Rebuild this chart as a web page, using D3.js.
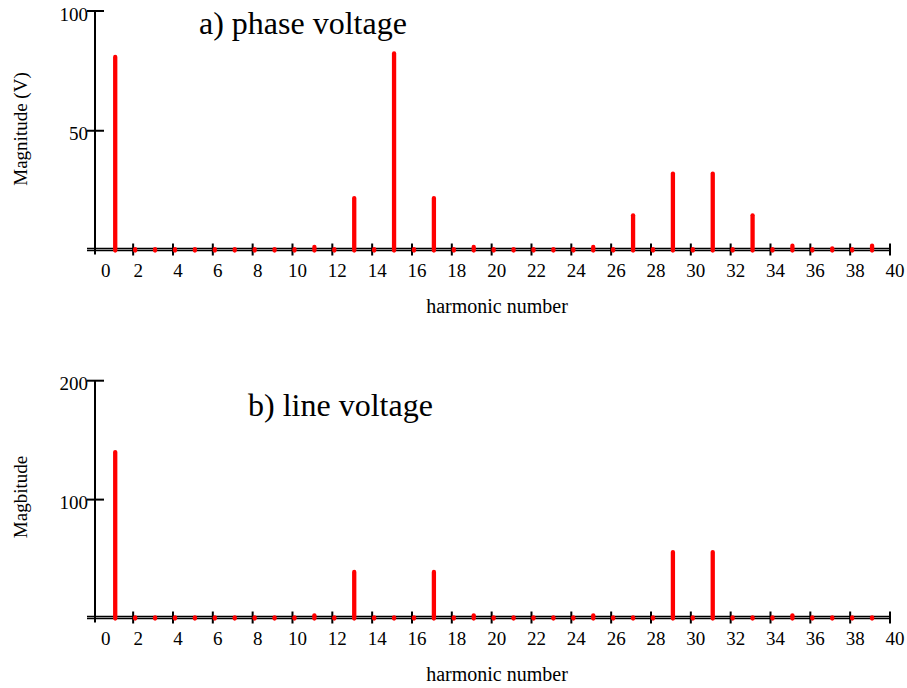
<!DOCTYPE html>
<html>
<head>
<meta charset="utf-8">
<script src="https://cdn.jsdelivr.net/npm/d3@7"></script>
<style>
  html, body { margin: 0; padding: 0; background: #fff; }
  svg { display: block; }
</style>
</head>
<body>
<svg id="chart" width="907" height="688"></svg>
<script>
// ---- data ----
const harmonics = d3.range(1, 40); // 1..39
const xTicks = d3.range(0, 41, 2);

const phaseValues = [
  80.8, 0.6, 0.6, 0.6, 0.6, 0.6, 0.6, 0.6, 0.6, 0.6,   // 1-10
  1.5, 0.6, 21.9, 0.6, 82.3, 0.6, 21.9, 0.6, 1.5, 0.6, // 11-20
  0.6, 0.6, 0.6, 0.6, 1.5, 0.6, 14.7, 0.6, 32.1, 0.6,  // 21-30
  32.1, 0.6, 14.7, 0.6, 2.0, 0.6, 0.9, 0.6, 2.0        // 31-39
];
const lineValues = [
  140, 1.0, 1.0, 1.0, 1.0, 1.0, 1.0, 1.0, 1.0, 1.0,    // 1-10
  2.7, 1.0, 39.1, 1.0, 1.0, 1.0, 39.1, 1.0, 2.7, 1.0,  // 11-20
  1.0, 1.0, 1.0, 1.0, 2.7, 1.0, 1.0, 1.0, 55.9, 1.0,   // 21-30
  55.9, 1.0, 1.0, 1.0, 2.7, 1.0, 1.0, 1.0, 1.0         // 31-39
];
const phaseYTicks = [50, 100];
const lineYTicks = [100, 200];

const FONT = "'Times New Roman', Times, 'Liberation Serif', Tinos, serif";
const svg = d3.select("#chart").attr("font-family", FONT);

function drawPanel(opt) {
  const g = svg.append("g");
  const x = d3.scaleLinear().domain([0, 40]).range([93.3, 890]);
  const y = d3.scaleLinear().domain([0, opt.yMax]).range([opt.zeroY, opt.topY]);
  const y0 = y(0);
  const axisX = 95;

  // double horizontal axis line
  g.append("line").attr("x1", 87).attr("x2", x(40)).attr("y1", y0).attr("y2", y0)
    .attr("stroke", "#000").attr("stroke-width", 1.5);
  g.append("line").attr("x1", 87).attr("x2", x(40)).attr("y1", y0 - 2).attr("y2", y0 - 2)
    .attr("stroke", "#000").attr("stroke-width", 1.5);

  // vertical axis line
  g.append("line").attr("x1", axisX).attr("x2", axisX)
    .attr("y1", y(opt.yMax)).attr("y2", y0 + 4)
    .attr("stroke", "#000").attr("stroke-width", 2);

  // y ticks
  g.selectAll(".ytick").data(opt.yTicks).enter().append("line")
    .attr("x1", 87).attr("x2", 104)
    .attr("y1", d => y(d)).attr("y2", d => y(d))
    .attr("stroke", "#000").attr("stroke-width", 2);
  g.selectAll(".ylab").data(opt.yTicks).enter().append("text")
    .attr("x", 88).attr("y", d => y(d) + 9.5)
    .attr("text-anchor", "end").attr("font-size", 19)
    .text(d => d);

  // x ticks
  g.selectAll(".xtick").data(xTicks.filter(d => d > 0)).enter().append("line")
    .attr("x1", d => x(d)).attr("x2", d => x(d))
    .attr("y1", y0 - 7).attr("y2", y0 + 5)
    .attr("stroke", "#000").attr("stroke-width", 2);
  g.selectAll(".xlab").data(xTicks).enter().append("text")
    .attr("x", d => x(d) + (d === 0 ? 12.5 : 5))
    .attr("y", y0 + 26)
    .attr("text-anchor", "middle").attr("font-size", 19)
    .text(d => d);

  // stems
  const marks = g.append("g").attr("transform", "translate(2,0)");
  marks.selectAll(".stem").data(harmonics).enter().append("line")
    .attr("x1", d => x(d)).attr("x2", d => x(d))
    .attr("y1", y0).attr("y2", (d, i) => y(opt.values[i]))
    .attr("stroke", "#ff0000").attr("stroke-width", 4.3)
    .attr("stroke-linecap", "round");

  // title
  g.append("text").attr("x", opt.titleX).attr("y", opt.titleY)
    .attr("font-size", 32).text(opt.title);

  // y label
  g.append("text")
    .attr("transform", `translate(27,${opt.yLabelY}) rotate(-90)`)
    .attr("text-anchor", "middle").attr("font-size", 19)
    .text(opt.yLabel);

  // x label
  g.append("text").attr("x", 497).attr("y", y0 + 62)
    .attr("text-anchor", "middle").attr("font-size", 20)
    .text("harmonic number");
}

drawPanel({
  values: phaseValues, yMax: 100, yTicks: phaseYTicks,
  zeroY: 250.5, topY: 11,
  title: "a) phase voltage", titleX: 199, titleY: 34,
  yLabel: "Magnitude (V)", yLabelY: 129
});
drawPanel({
  values: lineValues, yMax: 200, yTicks: lineYTicks,
  zeroY: 618.5, topY: 380.7,
  title: "b) line voltage", titleX: 248, titleY: 416,
  yLabel: "Magbitude", yLabelY: 497
});
</script>
</body>
</html>
